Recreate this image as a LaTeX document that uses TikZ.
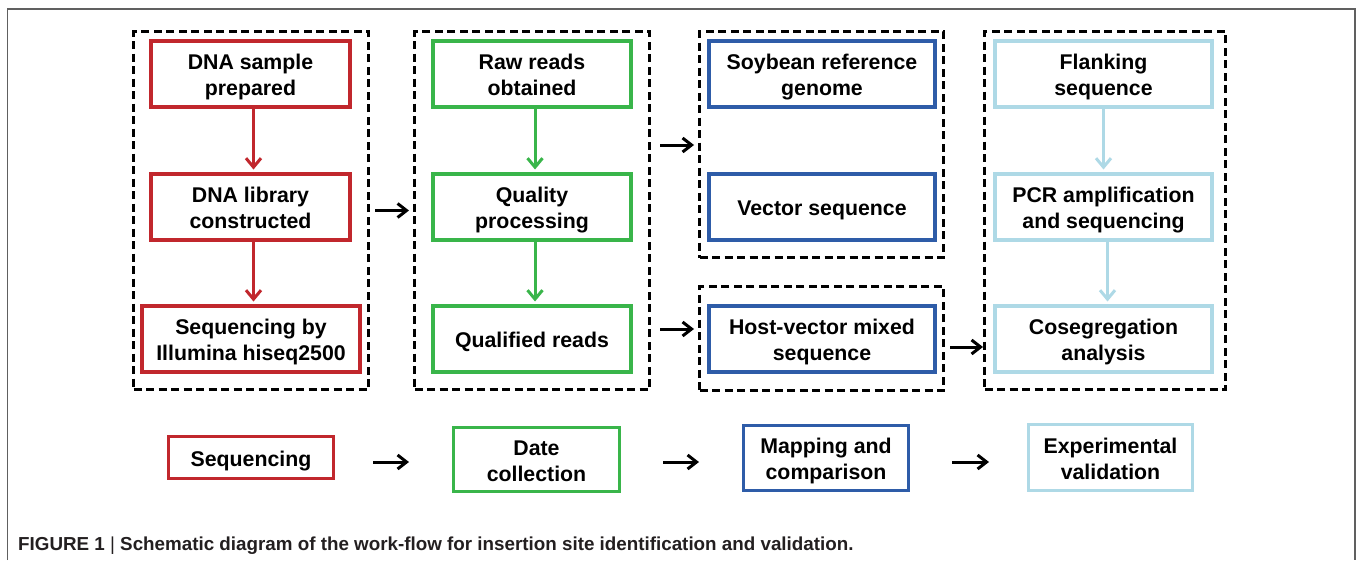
\documentclass[tikz,border=0pt]{standalone}
\usepackage{fontspec}
\setmainfont{Liberation Sans}
\usetikzlibrary{arrows.meta,calc}
\definecolor{cred}{HTML}{C1272D}
\definecolor{cgreen}{HTML}{39B54A}
\definecolor{cblue}{HTML}{2E5CA8}
\definecolor{clblue}{HTML}{AED9E6}
\definecolor{framegray}{HTML}{606060}
\definecolor{capgray}{HTML}{231F20}
\newcommand\bxfont{\fontsize{21.3}{26}\selectfont\bfseries}
\newcommand\bxt[1]{\raisebox{-3.5pt}[\height][\depth]{\begin{tabular}{@{}c@{}}#1\end{tabular}}}
\begin{document}
\begin{tikzpicture}[x=1pt,y=-1pt,
  box/.style={draw, line width=4pt, minimum height=66pt, inner sep=0pt, font=\bxfont, text=black},
  lowbox/.style={draw, line width=3pt, minimum width=165pt, inner sep=0pt, font=\bxfont, text=black},
  dbox/.style={draw=black, dash pattern=on 8pt off 4.5pt, line width=3pt, inner sep=0pt},
  carrow/.style={draw=#1, line width=3pt, shorten >=2pt, -{Straight Barb[length=9pt,width=15pt]}},
  blk/.style={draw=black, line width=3pt, -{Straight Barb[length=9pt,width=14pt]}}
]
\useasboundingbox (0,0) rectangle (1357,560);
% outer frame
\draw[framegray, line width=1.5pt] (7.5,560) -- (7.5,9) -- (1355,9) -- (1355,560);

% dashed groups
\node[dbox, minimum width=235pt, minimum height=358pt] (d1) at (251,210.5) {};
\node[dbox, minimum width=235pt, minimum height=358pt] (d2) at (532,210.5) {};
\node[dbox, minimum width=244pt, minimum height=226pt] (d3a) at (821.5,144.5) {};
\node[dbox, minimum width=244pt, minimum height=104pt] (d3b) at (821.5,338.5) {};
\node[dbox, minimum width=241pt, minimum height=358pt] (d4) at (1105,210.5) {};

% column 1 (red)
\node[box, draw=cred, minimum width=199pt] (r1) at (250.5,74) {\bxt{DNA sample\\prepared}};
\node[box, draw=cred, minimum width=199pt] (r2) at (250.5,206.5) {\bxt{DNA library\\constructed}};
\node[box, draw=cred, minimum width=218pt] (r3) at (251,338.5) {\bxt{Sequencing by\\Illumina hiseq2500}};
% column 2 (green)
\node[box, draw=cgreen, minimum width=198pt] (g1) at (532,74) {\bxt{Raw reads\\obtained}};
\node[box, draw=cgreen, minimum width=198pt] (g2) at (532,206.5) {\bxt{Quality\\processing}};
\node[box, draw=cgreen, minimum width=198pt] (g3) at (532,338.5) {\bxt{Qualified reads}};
% column 3 (blue)
\node[box, draw=cblue, minimum width=226pt] (b1) at (822,74) {\bxt{Soybean reference\\genome}};
\node[box, draw=cblue, minimum width=226pt] (b2) at (822,206.5) {\bxt{Vector sequence}};
\node[box, draw=cblue, minimum width=226pt] (b3) at (822,338.5) {\bxt{Host-vector mixed\\sequence}};
% column 4 (light blue)
\node[box, draw=clblue, minimum width=217pt] (l1) at (1103.5,74) {\bxt{Flanking\\sequence}};
\node[box, draw=clblue, minimum width=217pt] (l2) at (1103.5,206.5) {\bxt{PCR amplification\\and sequencing}};
\node[box, draw=clblue, minimum width=217pt] (l3) at (1103.5,338.5) {\bxt{Cosegregation\\analysis}};

% vertical arrows
\draw[carrow=cred] ($(r1.south)+(3,0)$) -- ($(r1.south |- r2.north)+(3,0)$);
\draw[carrow=cred] ($(r2.south)+(3,0)$) -- ($(r2.south |- r3.north)+(3,0)$);
\draw[carrow=cgreen] ($(g1.south)+(3,0)$) -- ($(g1.south |- g2.north)+(3,0)$);
\draw[carrow=cgreen] ($(g2.south)+(3,0)$) -- ($(g2.south |- g3.north)+(3,0)$);
\draw[carrow=clblue] (l1.south) -- (l1.south |- l2.north);
\draw[carrow=clblue] ($(l2.south)+(4,0)$) -- ($(l2.south |- l3.north)+(4,0)$);

% group arrows
\draw[blk] ($(d1.east)+(5,0)$) -- ($(d2.west)+(-4,0)$);
\draw[blk] ($(d2.east |- 0,145)+(9,0)$) -- ($(d3a.west |- 0,145)+(-4,0)$);
\draw[blk] ($(d2.east |- 0,329)+(9,0)$) -- ($(d3b.west |- 0,329)+(-4,0)$);
\draw[blk] ($(d3b.east |- 0,347)+(5,0)$) -- (d4.west |- 0,347);

% bottom legend row
\node[lowbox, draw=cred, minimum height=42pt] (s1) at (251,457.5) {\bxt{Sequencing}};
\node[lowbox, draw=cgreen, minimum height=64pt, minimum width=166pt] (s2) at (536.5,459.5) {\bxt{Date\\collection}};
\node[lowbox, draw=cblue, minimum height=65pt] (s3) at (826,458) {\bxt{Mapping and\\comparison}};
\node[lowbox, draw=clblue, minimum height=66pt, minimum width=164pt] (s4) at (1110.5,457.5) {\bxt{Experimental\\validation}};

\draw[blk, shorten <=38pt, shorten >=43pt] (s1.east |- 0,462) -- (s2.west |- 0,462);
\draw[blk, shorten <=42pt, shorten >=43pt] (s2.east |- 0,462) -- (s3.west |- 0,462);
\draw[blk, shorten <=42pt, shorten >=38pt] (s3.east |- 0,462) -- (s4.west |- 0,462);

% caption
\node[anchor=base west, inner sep=0pt, text=capgray, font=\fontsize{18.8}{22}\selectfont\bfseries] (cap) at (18,550)
  {FIGURE 1 {\mdseries|} Schematic diagram of the work-flow for insertion site identification and validation.};
\end{tikzpicture}
\end{document}
